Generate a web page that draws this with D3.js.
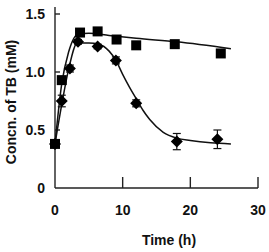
<!DOCTYPE html>
<html>
<head>
<meta charset="utf-8">
<script src="https://cdn.jsdelivr.net/npm/d3@7"></script>
<style>
  body { margin: 0; background: #fff; }
  text { font-family: "Liberation Sans", Arial, sans-serif; font-weight: bold; fill: #111; }
</style>
</head>
<body>
<div id="chart"></div>
<script>
// measured points
const squareTime = [0, 1, 3.7, 6.3, 9.1, 12, 17.7, 24.5]
const squareConc = [0.38, 0.93, 1.34, 1.35, 1.28, 1.23, 1.24, 1.16]
const squareErr = [0.03, 0.03, 0.02, 0.02, 0.02, 0.02, 0.02, 0.02]

const diamondTime = [0, 1, 2.2, 3.4, 6.3, 9, 12, 18, 24]
const diamondConc = [0.38, 0.75, 1.03, 1.26, 1.22, 1.1, 0.73, 0.4, 0.42]
const diamondErr = [0.03, 0.05, 0.03, 0.02, 0.02, 0.03, 0.03, 0.07, 0.08]

// fitted curves
const squareFitTime = [0, 1, 2, 3.5, 5, 8, 12, 18, 26]
const squareFitConc = [0.38, 0.9, 1.17, 1.33, 1.335, 1.315, 1.29, 1.26, 1.2]
const diamondFitTime = [0, 1, 2, 3.3, 5, 6.5, 8, 9, 10, 11, 12, 13, 14, 16, 18, 20, 23, 26]
const diamondFitConc = [0.38, 0.72, 1.02, 1.25, 1.25, 1.24, 1.18, 1.1, 0.98, 0.87, 0.77, 0.67, 0.59, 0.48, 0.43, 0.41, 0.39, 0.38]

const xTicks = [0, 10, 20, 30]
const yTicks = [0, 0.5, 1.0, 1.5]
const yTickLabels = ["0", "0.5", "1.0", "1.5"]

const width = 269, height = 252

const svg = d3.select("#chart").append("svg")
    .attr("width", width)
    .attr("height", height)

const x = d3.scaleLinear().domain([0, 30]).range([55, 258])
const y = d3.scaleLinear().domain([0, 1.5]).range([188, 14])

// axes
svg.append("line")
    .attr("x1", x(0)).attr("x2", x(30))
    .attr("y1", y(0)).attr("y2", y(0))
    .attr("stroke", "#222").attr("stroke-width", 1.4)
svg.append("line")
    .attr("x1", x(0)).attr("x2", x(0))
    .attr("y1", y(0)).attr("y2", 7)
    .attr("stroke", "#222").attr("stroke-width", 1.4)

svg.selectAll(".xtick")
    .data(xTicks.slice(1))
    .join("line")
    .attr("x1", d => x(d)).attr("x2", d => x(d))
    .attr("y1", y(0)).attr("y2", y(0) - 11)
    .attr("stroke", "#222").attr("stroke-width", 1.4)

svg.selectAll(".ytick")
    .data(yTicks.slice(1))
    .join("line")
    .attr("x1", x(0)).attr("x2", x(0) + 5)
    .attr("y1", d => y(d)).attr("y2", d => y(d))
    .attr("stroke", "#222").attr("stroke-width", 1.4)

svg.selectAll(".xlabel")
    .data(xTicks)
    .join("text")
    .attr("x", d => x(d))
    .attr("y", 215)
    .attr("text-anchor", "middle")
    .attr("font-size", 14)
    .text(d => d)

svg.selectAll(".ylabel")
    .data(yTicks)
    .join("text")
    .attr("x", 45)
    .attr("y", d => y(d) + 5)
    .attr("text-anchor", "end")
    .attr("font-size", 14)
    .text((d, i) => yTickLabels[i])

svg.append("text")
    .attr("x", 169).attr("y", 245)
    .attr("text-anchor", "middle")
    .attr("font-size", 14)
    .text("Time (h)")

svg.append("text")
    .attr("transform", "translate(16,102) rotate(-90)")
    .attr("text-anchor", "middle")
    .attr("font-size", 14)
    .text("Concn. of TB (mM)")

// fitted lines
const line = d3.line()
    .x(d => x(d[0]))
    .y(d => y(d[1]))
    .curve(d3.curveMonotoneX)

svg.append("path")
    .attr("d", line(d3.zip(squareFitTime, squareFitConc)))
    .attr("fill", "none").attr("stroke", "#111").attr("stroke-width", 1.5)
svg.append("path")
    .attr("d", line(d3.zip(diamondFitTime, diamondFitConc)))
    .attr("fill", "none").attr("stroke", "#111").attr("stroke-width", 1.5)

// error bars
function drawErr(times, vals, errs) {
    const g = svg.append("g").attr("stroke", "#111").attr("stroke-width", 1.2)
    times.forEach((t, i) => {
        const cx = x(t)
        g.append("line").attr("x1", cx).attr("x2", cx)
            .attr("y1", y(vals[i] - errs[i])).attr("y2", y(vals[i] + errs[i]))
        g.append("line").attr("x1", cx - 4).attr("x2", cx + 4)
            .attr("y1", y(vals[i] - errs[i])).attr("y2", y(vals[i] - errs[i]))
        g.append("line").attr("x1", cx - 4).attr("x2", cx + 4)
            .attr("y1", y(vals[i] + errs[i])).attr("y2", y(vals[i] + errs[i]))
    })
}
drawErr(squareTime, squareConc, squareErr)
drawErr(diamondTime, diamondConc, diamondErr)

// markers
svg.selectAll(".sq")
    .data(d3.zip(squareTime, squareConc))
    .join("rect")
    .attr("x", d => x(d[0]) - 5)
    .attr("y", d => y(d[1]) - 5)
    .attr("width", 10).attr("height", 10)
    .attr("fill", "#000")

svg.selectAll(".dm")
    .data(d3.zip(diamondTime, diamondConc))
    .join("path")
    .attr("transform", d => `translate(${x(d[0])},${y(d[1])})`)
    .attr("d", "M0,-6L6,0L0,6L-6,0Z")
    .attr("fill", "#000")
</script>
</body>
</html>
